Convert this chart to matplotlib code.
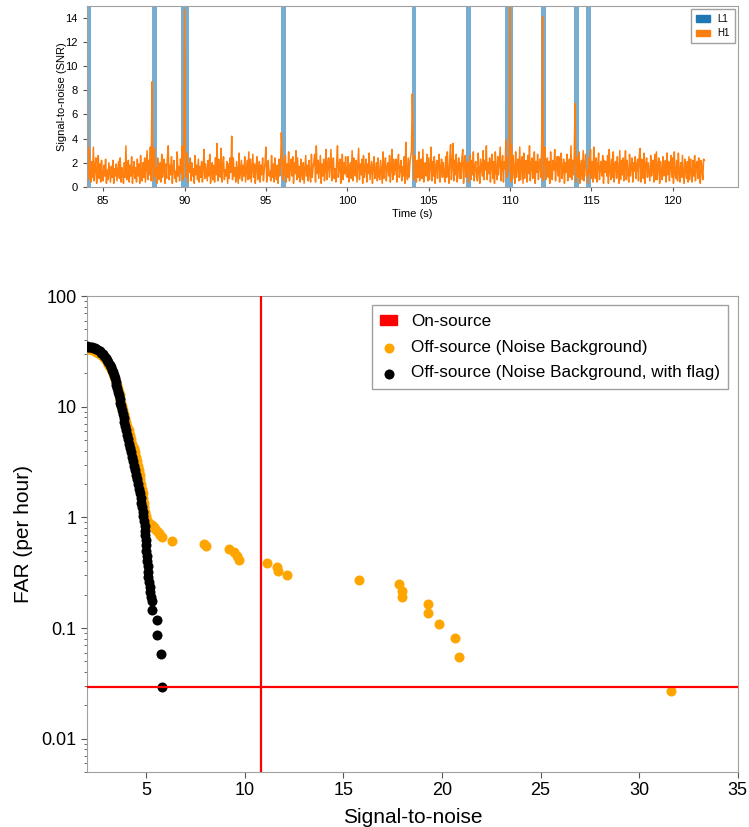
import numpy as np
import matplotlib
matplotlib.use("Agg")
import matplotlib.pyplot as plt
from matplotlib.patches import Patch

plt.rcParams["font.family"] = ["Liberation Sans", "DejaVu Sans"]

# ---- top panel: SNR time series (one row = 1 s) ----
t_start = 84.0
dt = 0.05
h1_snr = [
    14.9, 4.1, 0.6, 3.2, 1.1, 0.4, 2.1, 0.8, 3.3, 0.5, 1.6, 2.4, 0.3, 1.2, 2.6, 0.7, 1.9, 0.4, 2.2, 1.0,
    0.5, 1.8, 0.9, 2.3, 0.3, 1.4, 0.6, 2.0, 1.2, 0.4, 1.7, 0.8, 2.2, 0.3, 1.5, 0.9, 1.9, 0.5, 1.3, 2.1,
    0.7, 2.4, 0.4, 1.6, 1.1, 0.3, 2.0, 0.8, 3.4, 0.6, 1.5, 2.2, 0.4, 1.8, 0.9, 2.5, 0.3, 1.4, 2.1, 0.7,
    1.6, 0.4, 2.3, 0.9, 1.9, 0.3, 2.6, 1.2, 0.5, 2.0, 0.8, 2.4, 0.4, 1.7, 3.0, 0.6, 2.2, 1.0, 3.3, 0.5,
    8.7, 1.9, 0.5, 3.2, 0.9, 1.6, 0.3, 2.4, 1.1, 0.6, 2.0, 0.4, 2.7, 0.8, 1.5, 2.3, 0.3, 1.9, 0.7, 2.5,
    3.4, 0.6, 1.8, 1.0, 2.5, 0.3, 1.6, 2.2, 0.7, 1.3, 0.4, 2.9, 0.9, 1.7, 0.5, 2.3, 1.1, 3.4, 0.6, 2.6,
    14.7, 3.6, 0.8, 2.8, 0.4, 1.9, 1.2, 2.4, 0.5, 2.0, 0.9, 1.5, 0.3, 2.6, 1.0, 1.8, 0.6, 2.3, 0.4, 1.7,
    0.8, 2.1, 0.4, 1.6, 3.1, 0.7, 1.9, 1.2, 0.5, 2.2, 0.9, 2.7, 0.3, 1.4, 2.0, 0.6, 1.8, 0.4, 2.4, 1.0,
    3.6, 0.5, 2.3, 1.1, 0.8, 3.2, 0.4, 1.7, 2.5, 0.6, 1.4, 0.9, 2.1, 0.3, 1.9, 0.7, 2.4, 1.2, 4.2, 0.6,
    2.4, 0.9, 1.6, 0.4, 2.1, 1.2, 0.3, 2.8, 0.7, 1.5, 2.2, 0.5, 1.8, 0.9, 2.5, 0.4, 1.3, 2.2, 0.6, 2.9,
    0.7, 2.3, 0.4, 1.5, 2.7, 0.8, 1.9, 0.3, 1.6, 2.5, 0.6, 1.2, 2.1, 0.4, 1.8, 1.0, 2.4, 0.5, 1.4, 2.0,
    3.3, 0.4, 1.7, 2.2, 0.9, 1.3, 0.5, 2.6, 0.8, 1.9, 0.4, 2.4, 1.1, 0.6, 1.8, 0.3, 2.3, 0.9, 1.5, 4.5,
    2.8, 0.6, 2.2, 1.0, 2.6, 0.4, 1.9, 0.8, 2.9, 0.5, 1.6, 2.3, 0.9, 2.5, 0.3, 2.0, 1.1, 3.0, 0.6, 2.4,
    0.8, 1.7, 0.4, 2.3, 1.2, 0.6, 2.0, 0.3, 1.5, 2.6, 0.9, 1.8, 0.5, 2.2, 1.0, 0.4, 2.7, 0.8, 1.6, 2.1,
    2.7, 0.4, 3.4, 1.1, 2.2, 0.7, 1.6, 2.6, 0.3, 1.9, 0.9, 2.3, 0.5, 1.4, 3.1, 0.6, 1.8, 2.4, 0.8, 2.0,
    3.1, 0.5, 1.9, 2.4, 0.7, 1.5, 0.4, 2.1, 3.4, 0.8, 1.7, 2.3, 0.3, 1.4, 2.7, 0.6, 2.0, 1.1, 2.5, 0.9,
    0.8, 2.5, 0.4, 1.6, 2.0, 0.7, 3.0, 0.5, 2.4, 1.2, 0.9, 2.2, 0.4, 1.8, 3.2, 0.6, 1.9, 1.0, 2.3, 0.3,
    2.6, 0.8, 1.5, 2.3, 0.4, 1.9, 1.1, 2.8, 0.6, 1.4, 2.1, 0.3, 1.7, 2.5, 0.7, 1.2, 2.0, 0.5, 2.4, 0.9,
    0.6, 2.2, 1.3, 0.3, 2.9, 0.7, 1.8, 2.4, 0.5, 1.6, 2.0, 0.9, 2.6, 0.4, 1.5, 3.1, 0.6, 2.3, 1.0, 1.7,
    2.3, 0.4, 1.9, 2.7, 0.8, 1.4, 2.2, 0.5, 1.7, 0.9, 2.5, 0.3, 3.7, 1.2, 0.6, 2.4, 0.8, 2.0, 2.5, 3.0,
    7.7, 3.8, 0.6, 2.6, 1.1, 0.4, 2.2, 0.8, 2.9, 0.5, 1.7, 2.3, 0.7, 3.1, 0.4, 1.9, 2.0, 0.9, 2.7, 0.5,
    2.4, 0.6, 1.8, 3.3, 0.5, 2.1, 0.9, 2.5, 0.3, 1.6, 2.2, 0.7, 1.9, 2.7, 0.4, 1.5, 2.3, 0.8, 2.0, 1.1,
    0.4, 2.5, 0.8, 2.9, 1.2, 0.3, 2.3, 3.5, 0.6, 1.8, 3.6, 0.5, 2.2, 1.0, 2.7, 0.4, 1.6, 2.4, 0.7, 2.0,
    0.7, 2.4, 3.1, 0.3, 1.9, 2.6, 0.8, 1.5, 2.1, 0.4, 1.8, 2.6, 0.6, 2.2, 1.0, 2.9, 0.5, 1.7, 2.1, 0.8,
    0.5, 2.8, 1.2, 0.3, 2.3, 1.6, 0.9, 3.0, 0.6, 2.2, 1.4, 3.4, 0.6, 2.0, 1.1, 2.4, 0.4, 1.9, 2.7, 0.7,
    2.1, 0.3, 2.9, 1.3, 0.6, 2.5, 1.0, 2.2, 3.3, 0.5, 1.8, 2.6, 0.4, 2.1, 1.5, 3.9, 0.8, 2.4, 1.2, 3.2,
    16.0, 0.4, 3.5, 0.7, 2.6, 1.3, 0.3, 2.9, 0.8, 1.7, 2.3, 0.5, 3.3, 0.6, 2.0, 2.5, 0.3, 2.8, 0.7, 1.9,
    2.2, 0.4, 2.6, 1.1, 3.4, 0.5, 1.8, 2.4, 0.7, 1.5, 2.9, 0.3, 2.1, 1.2, 2.7, 0.6, 1.9, 2.3, 0.8, 3.4,
    14.1, 0.5, 2.7, 3.3, 0.6, 1.9, 2.4, 0.8, 2.1, 0.3, 2.9, 1.1, 0.6, 2.2, 1.4, 3.1, 0.5, 1.8, 2.5, 0.9,
    2.5, 0.4, 1.9, 2.8, 0.7, 1.4, 2.3, 0.3, 2.0, 1.2, 2.7, 0.5, 1.6, 2.3, 0.8, 3.4, 0.6, 2.2, 1.0, 2.6,
    6.9, 0.4, 2.5, 1.2, 0.8, 2.9, 0.3, 1.7, 2.2, 0.6, 3.0, 0.5, 1.9, 2.7, 0.9, 1.4, 0.3, 2.4, 1.1, 3.1,
    0.7, 2.1, 0.4, 3.3, 1.3, 0.7, 2.4, 0.4, 1.8, 2.8, 0.6, 1.5, 2.1, 0.9, 2.6, 0.3, 2.2, 1.2, 2.1, 0.9,
    2.6, 0.3, 3.1, 1.4, 0.6, 2.3, 0.8, 2.9, 0.4, 1.9, 2.1, 0.7, 2.5, 1.2, 0.3, 3.0, 0.6, 2.2, 1.0, 2.4,
    0.5, 1.9, 3.0, 0.6, 2.2, 1.1, 0.4, 2.7, 0.9, 1.6, 2.4, 0.4, 2.0, 1.3, 2.5, 0.7, 1.8, 2.3, 0.5, 2.6,
    3.2, 0.4, 2.3, 1.0, 0.7, 2.8, 0.3, 1.9, 2.4, 0.8, 2.0, 1.2, 0.5, 2.6, 0.9, 1.7, 2.2, 0.4, 2.7, 0.6,
    2.9, 0.6, 1.8, 2.4, 0.3, 2.1, 1.2, 0.6, 2.5, 0.9, 1.5, 2.2, 0.4, 2.8, 1.0, 2.1, 0.5, 1.7, 2.6, 0.8,
    2.4, 0.3, 2.9, 1.1, 0.7, 2.2, 0.5, 2.8, 1.3, 0.4, 2.0, 0.8, 2.6, 1.0, 0.3, 2.3, 1.4, 0.7, 2.1, 0.4,
    2.5, 0.6, 2.3, 1.2, 0.4, 2.2, 0.9, 2.6, 0.5, 1.8, 2.1, 0.7, 2.4, 1.0, 0.3, 2.2, 1.5, 0.6, 2.3, 2.2,
]
# L1 glitches (off scale, clipped at the top)
l1_glitch_time = [84.12, 88.15, 90.05, 96.1, 104.1, 107.45, 109.95, 112.05, 114.1, 114.85]
l1_glitch_width = [0.25, 0.3, 0.5, 0.3, 0.3, 0.3, 0.5, 0.3, 0.3, 0.3]
l1_glitch_snr = [30, 25, 40, 22, 28, 24, 45, 35, 26, 23]

# ---- bottom panel: FAR vs SNR ----
black_snr = [2.00, 2.08, 2.16, 2.24, 2.32, 2.40, 2.48, 2.56, 2.64, 2.72, 2.80, 2.88, 2.96, 3.03,
             3.09, 3.15, 3.21, 3.27, 3.32, 3.37, 3.42, 3.46, 3.50, 3.54, 3.58, 3.62, 3.66, 3.70,
             3.74, 3.78, 3.82, 3.86, 3.90, 3.94, 3.985, 4.03, 4.08, 4.13, 4.18, 4.23, 4.28, 4.33,
             4.40, 4.46, 4.51, 4.56, 4.60, 4.64, 4.68, 4.72, 4.75, 4.79, 4.83, 4.87, 4.90, 4.93,
             4.95, 4.97, 4.99, 5.01, 5.02, 5.04, 5.06, 5.08, 5.10, 5.11, 5.14, 5.18, 5.22, 5.25,
             5.29, 5.32, 5.54, 5.57, 5.75, 5.81]
black_far = [35.2, 35.0, 34.8, 34.5, 34.2, 33.8, 33.3, 32.6, 31.8, 30.9, 29.9, 28.8, 27.6, 26.4,
             25.2, 24.0, 22.8, 21.6, 20.4, 19.2, 18.0, 16.9, 15.8, 14.7, 13.7, 12.7, 11.8, 10.9,
             10.1, 9.3, 8.6, 7.9, 7.3, 6.7, 6.1, 5.6, 5.1, 4.65, 4.25, 3.88, 3.54, 3.23,
             2.94, 2.66, 2.42, 2.20, 2.00, 1.82, 1.65, 1.50, 1.36, 1.24, 1.12, 1.02, 0.93, 0.84,
             0.76, 0.69, 0.62, 0.56, 0.50, 0.45, 0.40, 0.36, 0.32, 0.29, 0.26, 0.235, 0.21, 0.19,
             0.177, 0.146, 0.117, 0.087, 0.058, 0.0292]

orange_snr = [2.00, 2.08, 2.16, 2.24, 2.32, 2.40, 2.48, 2.56, 2.64, 2.72, 2.80, 2.88, 2.95, 3.02,
              3.08, 3.14, 3.20, 3.26, 3.31, 3.36, 3.41, 3.46, 3.51, 3.56, 3.61, 3.66, 3.70, 3.75,
              3.80, 3.85, 3.90, 3.95, 4.00, 4.05, 4.13, 4.19, 4.25, 4.31, 4.37, 4.42, 4.47, 4.52,
              4.57, 4.62, 4.67, 4.71, 4.75, 4.79, 4.83, 4.86, 4.89, 4.92, 4.96, 5.00, 5.05, 5.12,
              5.20, 5.30, 5.38, 5.47, 5.56, 5.64, 5.72, 5.83, 6.34, 7.94, 8.06, 9.21, 9.47, 9.63,
              9.72, 11.13, 11.65, 11.67, 12.17, 15.81, 17.84, 17.96, 17.96, 19.31, 19.31, 19.87,
              20.67, 20.87, 31.6]
orange_far = [33.5, 33.3, 33.0, 32.7, 32.4, 32.0, 31.5, 30.9, 30.2, 29.4, 28.5, 27.5, 26.5, 25.4,
              24.3, 23.2, 22.1, 21.0, 19.9, 18.8, 17.7, 16.6, 15.6, 14.6, 13.6, 12.7, 11.8, 10.9,
              10.1, 9.3, 8.6, 7.9, 7.3, 6.7, 6.1, 5.6, 5.1, 4.65, 4.25, 3.88, 3.54, 3.23,
              2.94, 2.66, 2.42, 2.20, 2.00, 1.82, 1.65, 1.50, 1.36, 1.24, 1.12, 1.02, 0.94, 0.90,
              0.88, 0.85, 0.82, 0.79, 0.76, 0.73, 0.70, 0.66, 0.61, 0.57, 0.55, 0.52, 0.49, 0.45,
              0.41, 0.385, 0.355, 0.33, 0.30, 0.27, 0.248, 0.218, 0.19, 0.164, 0.136, 0.109,
              0.082, 0.055, 0.0272]

onsource_snr = 10.85
onsource_far = 0.0293

fig = plt.figure(figsize=(7.49, 8.27), dpi=100)
grey = "#a0a0a0"

# top
ax1 = fig.add_axes([0.116, 0.774, 0.869, 0.219])
t = t_start + dt * np.arange(len(h1_snr))
ax1.bar(l1_glitch_time, l1_glitch_snr, width=l1_glitch_width, color="#1f77b4", alpha=0.6, lw=0, zorder=1)
ax1.plot(t, h1_snr, color="#ff7f0e", lw=1.1, zorder=2)
ax1.set_xlim(84, 124)
ax1.set_ylim(0, 15)
ax1.set_yticks(range(0, 15, 2))
ax1.set_xticks(range(85, 121, 5))
ax1.set_xlabel("Time (s)", fontsize=8, labelpad=2)
ax1.set_ylabel("Signal-to-noise (SNR)", fontsize=8, labelpad=-1)
ax1.tick_params(labelsize=8, length=3, color="#555555")
for s in ax1.spines.values():
    s.set_color(grey)
ax1.legend(handles=[Patch(color="#1f77b4", label="L1"), Patch(color="#ff7f0e", label="H1")],
           loc="upper right", fontsize=7, fancybox=False, edgecolor=grey, framealpha=1,
           handlelength=1.4, handleheight=0.7, borderpad=0.5, labelspacing=0.5,
           bbox_to_anchor=(1.0, 1.0), borderaxespad=0.3)

# bottom
ax2 = fig.add_axes([0.116, 0.0665, 0.869, 0.5755])
ax2.scatter(orange_snr, orange_far, s=52, color="orange", lw=0, zorder=2,
            label="Off-source (Noise Background)")
ax2.scatter(black_snr, black_far, s=52, color="black", lw=0, zorder=3,
            label="Off-source (Noise Background, with flag)")
ax2.axvline(onsource_snr, color="red", lw=1.6, zorder=4)
ax2.axhline(onsource_far, color="red", lw=1.6, zorder=4)
ax2.set_yscale("log")
ax2.set_xlim(2, 35)
ax2.set_ylim(0.005, 100)
ax2.set_yticks([0.01, 0.1, 1, 10, 100])
ax2.set_yticklabels(["0.01", "0.1", "1", "10", "100"])
ax2.set_xticks(range(5, 36, 5))
ax2.tick_params(labelsize=13, length=4, color="#555555")
ax2.tick_params(which="minor", length=2.5, color="#555555")
ax2.set_xlabel("Signal-to-noise", fontsize=15, labelpad=6)
ax2.set_ylabel("FAR (per hour)", fontsize=15, labelpad=6)
for s in ax2.spines.values():
    s.set_color(grey)
h, l = ax2.get_legend_handles_labels()
ax2.legend(handles=[Patch(color="red", label="On-source")] + h,
           loc="upper right", fontsize=12.3, fancybox=False, edgecolor=grey, framealpha=1,
           handlelength=1.0, handleheight=0.5, borderpad=0.5, labelspacing=0.62,
           bbox_to_anchor=(1.0, 1.0), borderaxespad=0.55)

fig.savefig("out.png", dpi=100)
